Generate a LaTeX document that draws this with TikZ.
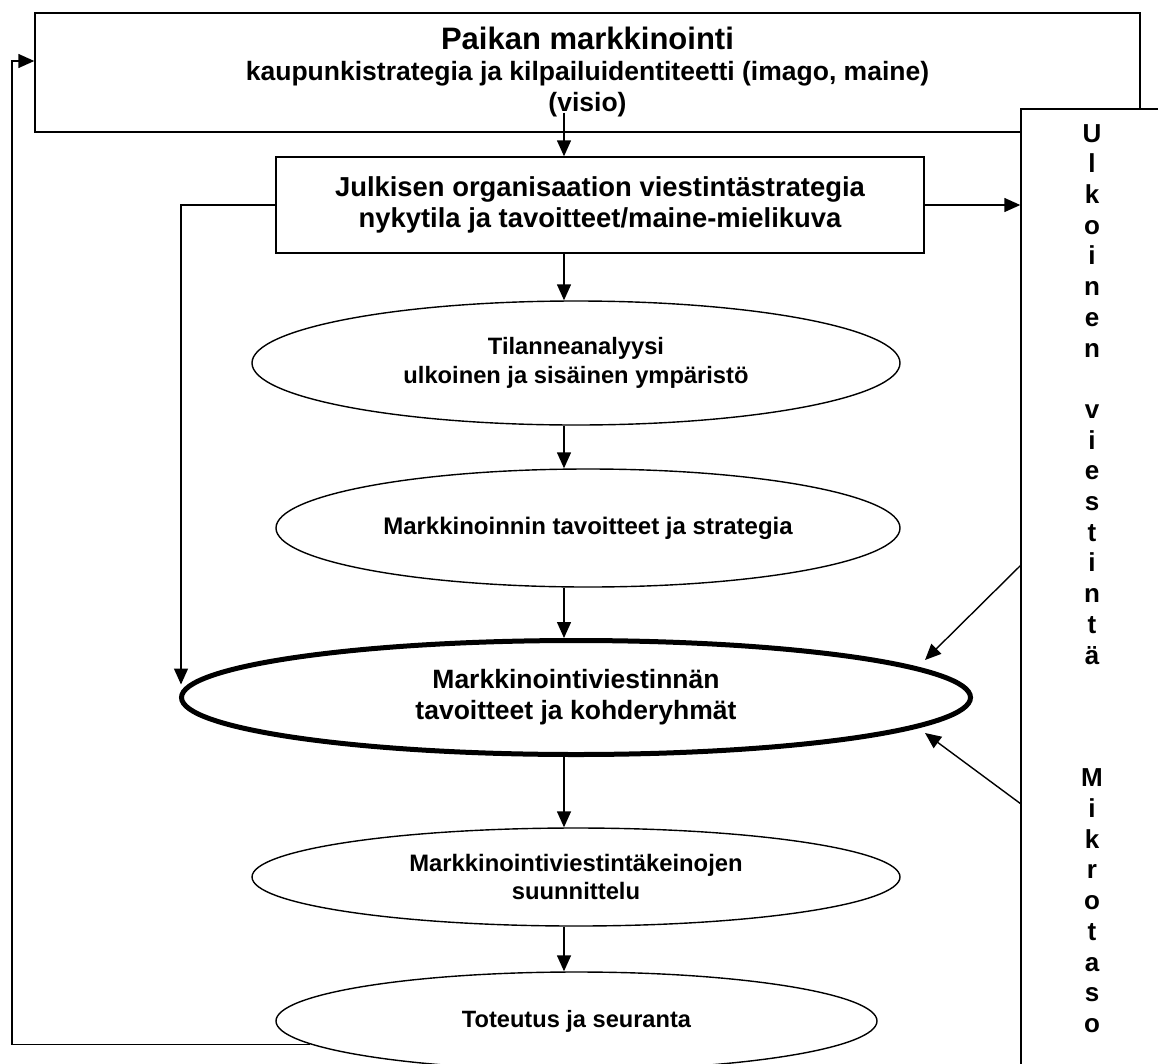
\documentclass[tikz,border=0pt]{standalone}
\usepackage{fontspec}
\setmainfont{Liberation Sans}
\usetikzlibrary{shapes.geometric,arrows.meta}

\tikzset{
  viiva/.style={line width=1.4pt},
  nuoli/.style={viiva, -{Triangle[length=16pt,width=14pt]}},
  laatikko/.style={viiva, draw, fill=white, align=center, inner sep=0pt},
  soikio/.style={viiva, draw, ellipse, fill=white, align=center, inner sep=0pt},
}

\begin{document}
\begin{tikzpicture}[x=1pt, y=-1pt]
  \useasboundingbox (0,0) rectangle (1158,1063);

  \node[laatikko, minimum width=1105pt, minimum height=119pt,
        font=\fontsize{26.5}{31}\selectfont\bfseries] (paikka) at (587.5,72.5)
        {{\fontsize{31}{31}\selectfont Paikan markkinointi}\\
         kaupunkistrategia ja kilpailuidentiteetti (imago, maine)\\(visio)};
  \node[laatikko, minimum width=160pt, minimum height=980pt] (ulkoinen) at (1101,599) {};
  \node[anchor=north, inner sep=0pt, align=center,
        font=\fontsize{26}{30.7}\selectfont\bfseries] (pystyteksti) at (1092,124)
        {U\\l\\k\\o\\i\\n\\e\\n\\ \\v\\i\\e\\s\\t\\i\\n\\t\\ä\\ \\ \\ \\M\\i\\k\\r\\o\\t\\a\\s\\o};
  \node[laatikko, minimum width=648pt, minimum height=96pt,
        font=\fontsize{27.4}{31}\selectfont\bfseries] (julkinen) at (600,205)
        {Julkisen organisaation viestintästrategia\\nykytila ja tavoitteet/maine-mielikuva};

  \node[soikio, minimum width=648pt, minimum height=124pt,
        font=\fontsize{23.7}{29}\selectfont\bfseries] (tilanne) at (576,363)
        {Tilanneanalyysi\\ulkoinen ja sisäinen ympäristö};
  \node[soikio, minimum width=624pt, minimum height=118pt,
        font=\fontsize{24}{29}\selectfont\bfseries] (strategia) at (588,528)
        {Markkinoinnin tavoitteet ja strategia};
  \node[soikio, line width=5pt, minimum width=789pt, minimum height=114pt,
        font=\fontsize{26.5}{31}\selectfont\bfseries] (viestinta) at (576,697.5)
        {Markkinointiviestinnän\\tavoitteet ja kohderyhmät};
  \node[soikio, minimum width=648pt, minimum height=98pt,
        font=\fontsize{23.8}{28}\selectfont\bfseries] (keinot) at (576,877)
        {Markkinointiviestintäkeinojen\\suunnittelu};
  \node[soikio, minimum width=601pt, minimum height=98pt,
        font=\fontsize{23.6}{28}\selectfont\bfseries] (toteutus) at (576.5,1021)
        {Toteutus ja seuranta};

  \coordinate (akseli) at (564,0);
  \coordinate (paluu) at (12,61);
  \coordinate (ulk1) at (1021,565);
  \coordinate (kohde1) at (925,660);
  \coordinate (ulk2) at (1021,804);
  \coordinate (kohde2) at (925,733);

  \draw[nuoli] ([yshift=20pt]paikka.south -| akseli) -- (julkinen.north -| akseli);
  \draw[nuoli] (julkinen.south -| akseli) -- (tilanne.north -| akseli);
  \draw[nuoli] (tilanne.south -| akseli) -- (strategia.north -| akseli);
  \draw[nuoli] (strategia.south -| akseli) -- (viestinta.north -| akseli);
  \draw[nuoli] (viestinta.south -| akseli) -- (keinot.north -| akseli);
  \draw[nuoli] (keinot.south -| akseli) -- (toteutus.north -| akseli);

  \draw[nuoli] (julkinen.east) -- (julkinen.east -| ulkoinen.west);
  \draw[nuoli] (julkinen.west) -| ([xshift=2pt,yshift=13pt]viestinta.west);
  \draw[nuoli] (ulk1) -- (kohde1);
  \draw[nuoli] (ulk2) -- (kohde2);
  \draw[nuoli] (toteutus.185) -| (paluu) -- (paluu -| paikka.west);
\end{tikzpicture}
\end{document}
